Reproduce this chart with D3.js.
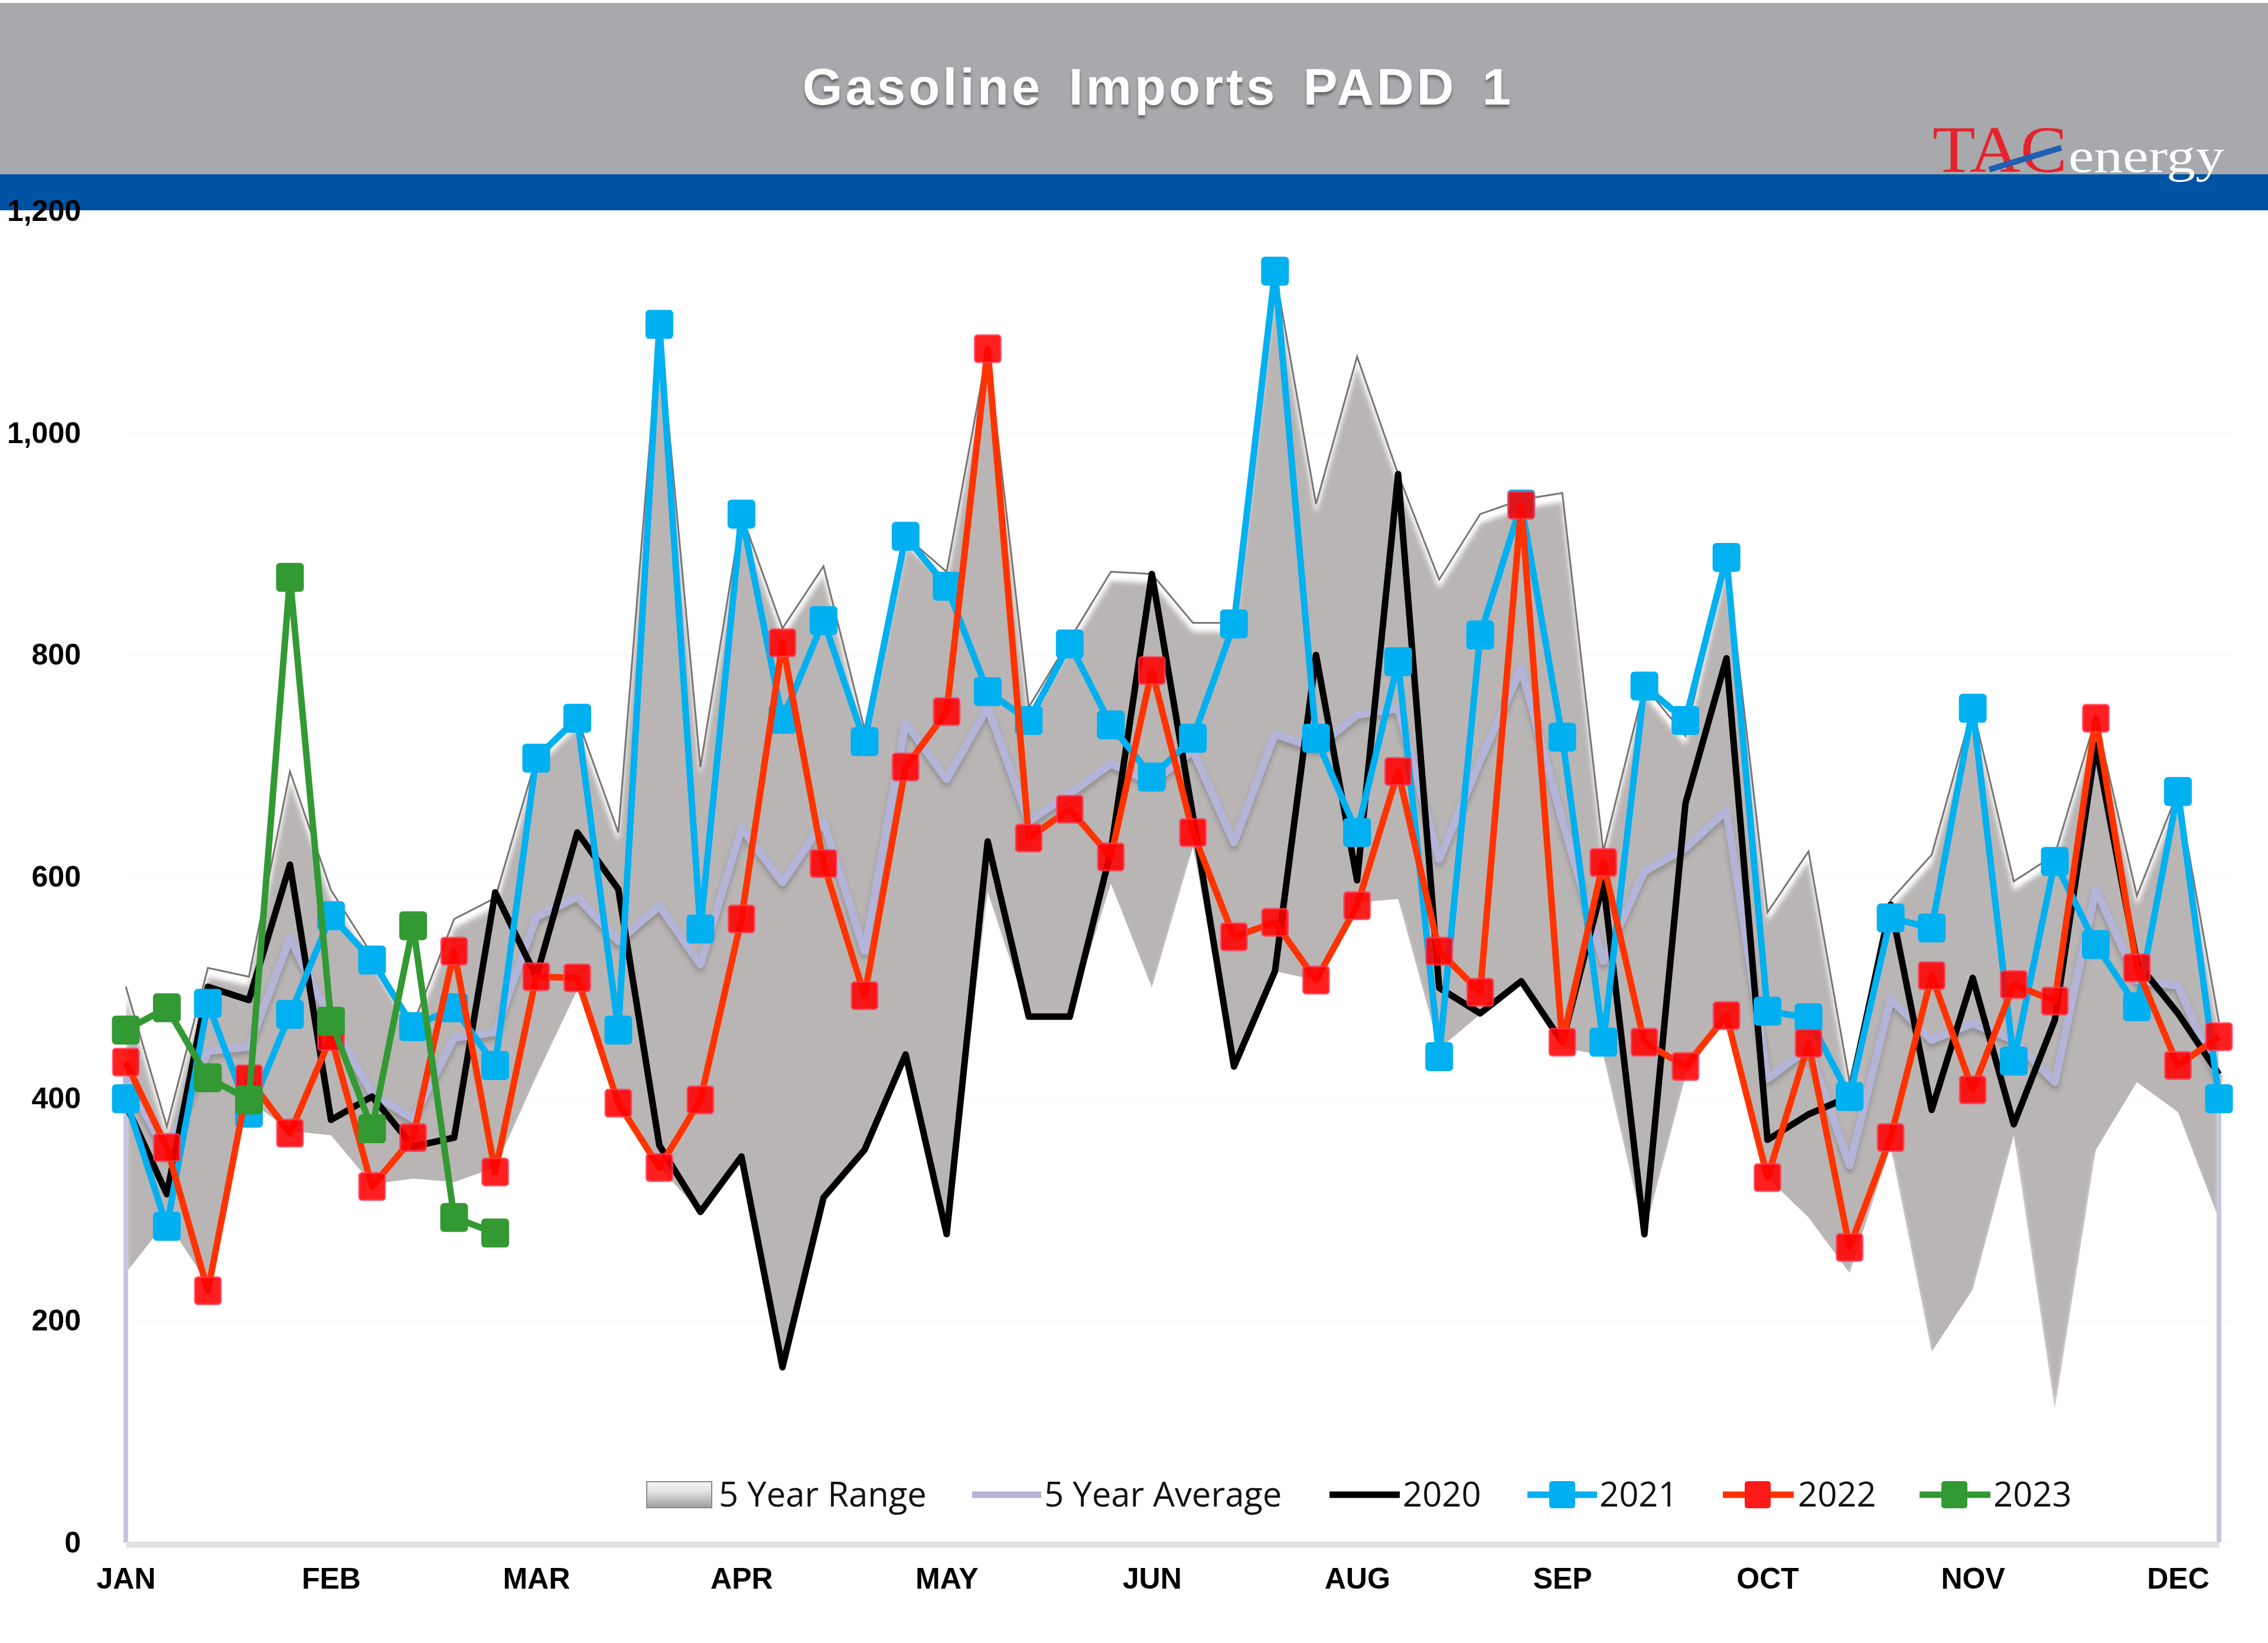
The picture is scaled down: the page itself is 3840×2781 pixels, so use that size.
<!DOCTYPE html>
<html>
<head>
<meta charset="utf-8">
<title>Gasoline Imports PADD 1</title>
<script src="https://cdn.jsdelivr.net/npm/d3@7/dist/d3.min.js"></script>
<style>
  html, body { margin: 0; padding: 0; background: #fff; }
  svg { display: block; }
  text { font-family: "Liberation Sans", Arial, sans-serif; }
</style>
</head>
<body>
<svg id="chart" width="3840" height="2781"></svg>
<script>
// values, one per week
var yTicks = [0, 200, 400, 600, 800, 1000, 1200];
var monthLabels = ["JAN", "FEB", "MAR", "APR", "MAY", "JUN", "AUG", "SEP", "OCT", "NOV", "DEC"];
var monthWeeks = [0, 5, 10, 15, 20, 25, 30, 35, 40, 45, 50];
var weeks = d3.range(52);

var rangeHigh = [501, 375, 518, 510, 695, 588, 530, 467, 562, 581, 707, 743, 640, 1098, 699, 927, 824, 880, 733, 907, 875, 1076, 753, 814, 875, 873, 829, 829, 1146, 936, 1069, 963, 868, 927, 940, 946, 623, 772, 727, 888, 568, 623, 415, 579, 620, 752, 596, 620, 743, 583, 677, 469];
var rangeLow = [243, 290, 233, 399, 371, 367, 323, 328, 325, 338, 420, 498, 392, 338, 298, 348, 158, 311, 354, 440, 278, 586, 474, 474, 594, 500, 627, 429, 515, 507, 577, 580, 445, 476, 507, 446, 439, 278, 420, 475, 329, 293, 243, 357, 172, 228, 367, 120, 354, 415, 388, 291];
var avg5 = [420, 350, 443, 447, 545, 470, 405, 382, 455, 460, 564, 582, 542, 574, 521, 644, 595, 650, 533, 739, 688, 753, 650, 675, 702, 685, 714, 631, 729, 716, 746, 752, 616, 705, 788, 651, 524, 605, 626, 660, 418, 446, 340, 490, 453, 468, 453, 415, 589, 507, 502, 418];
var y2020 = [395, 314, 501, 489, 611, 381, 402, 357, 365, 586, 510, 640, 589, 358, 298, 348, 158, 311, 354, 440, 278, 632, 474, 474, 623, 873, 655, 429, 515, 800, 597, 963, 500, 477, 506, 451, 595, 278, 666, 797, 363, 386, 402, 575, 390, 509, 377, 471, 719, 523, 477, 422];
var y2021 = [400, 285, 486, 387, 476, 565, 525, 465, 482, 430, 707, 743, 462, 1098, 553, 927, 742, 831, 722, 907, 862, 767, 741, 810, 737, 690, 725, 828, 1146, 725, 640, 794, 438, 818, 936, 726, 451, 772, 741, 888, 479, 473, 402, 563, 554, 752, 434, 614, 539, 483, 677, 400];
var y2022 = [433, 356, 227, 418, 369, 456, 321, 365, 533, 334, 510, 509, 396, 338, 399, 562, 811, 612, 493, 699, 749, 1076, 635, 661, 618, 786, 640, 546, 559, 507, 574, 695, 533, 496, 935, 451, 613, 451, 429, 475, 329, 450, 266, 365, 511, 408, 503, 488, 743, 518, 430, 456];
var y2023 = [462, 482, 419, 399, 870, 470, 373, 556, 293, 279];

var legendRange = "5 Year Range";
var legendAverage = "5 Year Average";
var chartTitle = "Gasoline Imports PADD 1";

var colBlack = "#000000", colBlue = "#00b0f0", colRed = "#ff3300", colGreen = "#339933", colAvg = "#b4b4d8";

var svg = d3.select("#chart");
var x = d3.scaleLinear().domain([0, 51]).range([213, 3757]);
var y = d3.scaleLinear().domain([0, 1200]).range([2611, 357.5]);

/*
	defs: bevel on the range, soft shadow under the average
*/
var defs = svg.append("defs");

var bevel = defs.append("filter").attr("id", "bevel")
	.attr("filterUnits", "userSpaceOnUse").attr("x", 0).attr("y", 300).attr("width", 3840).attr("height", 2400);
bevel.append("feFlood").attr("flood-color", "#ffffff").attr("result", "white");
bevel.append("feComposite").attr("in", "white").attr("in2", "SourceAlpha").attr("operator", "in").attr("result", "whiteShape");
bevel.append("feOffset").attr("in", "SourceAlpha").attr("dy", 15).attr("result", "moved");
bevel.append("feGaussianBlur").attr("in", "moved").attr("stdDeviation", 4).attr("result", "soft");
bevel.append("feFlood").attr("flood-color", "#b9b5b4").attr("result", "grey");
bevel.append("feComposite").attr("in", "grey").attr("in2", "soft").attr("operator", "in").attr("result", "greySoft");
bevel.append("feComposite").attr("in", "greySoft").attr("in2", "SourceAlpha").attr("operator", "in").attr("result", "greyIn");
var bevelMerge = bevel.append("feMerge");
bevelMerge.append("feMergeNode").attr("in", "whiteShape");
bevelMerge.append("feMergeNode").attr("in", "greyIn");

var shadow = defs.append("filter").attr("id", "shadow")
	.attr("filterUnits", "userSpaceOnUse").attr("x", 0).attr("y", 300).attr("width", 3840).attr("height", 2400);
shadow.append("feDropShadow").attr("dx", 0).attr("dy", 7).attr("stdDeviation", 4)
	.attr("flood-color", "#555").attr("flood-opacity", 0.4);

var swatchFill = defs.append("linearGradient").attr("id", "swatchFill")
	.attr("x1", 0).attr("y1", 0).attr("x2", 0).attr("y2", 1);
swatchFill.append("stop").attr("offset", "0%").attr("stop-color", "#f4f4f4");
swatchFill.append("stop").attr("offset", "35%").attr("stop-color", "#e6e6e6");
swatchFill.append("stop").attr("offset", "100%").attr("stop-color", "#9f9c9c");

/*
	header bands
*/
svg.append("rect").attr("x", 0).attr("y", 5).attr("width", 3840).attr("height", 290).attr("fill", "#a7a9ac");
svg.append("rect").attr("x", 0).attr("y", 295).attr("width", 3840).attr("height", 61).attr("fill", "#0052a2");

svg.append("text").text(chartTitle)
	.attr("x", 1961).attr("y", 177).attr("text-anchor", "middle")
	.attr("font-size", 87).attr("font-weight", "bold").attr("letter-spacing", 5).attr("word-spacing", 14)
	.attr("fill", "#ffffff")
	.style("filter", "drop-shadow(0px 5px 2px rgba(60,60,60,0.6))");

// logo
var logo = svg.append("g");
logo.append("text").text("TAC").attr("x", 3272).attr("y", 291)
	.attr("font-size", 112).attr("textLength", 228).attr("lengthAdjust", "spacingAndGlyphs")
	.style("font-family", "'Liberation Serif', serif").attr("fill", "#e5232c");
logo.append("line").attr("x1", 3368).attr("y1", 287).attr("x2", 3490).attr("y2", 250)
	.attr("stroke", "#1f5fb0").attr("stroke-width", 10);
logo.append("text").text("energy").attr("x", 3502).attr("y", 291)
	.attr("font-size", 80).attr("textLength", 264).attr("lengthAdjust", "spacingAndGlyphs")
	.style("font-family", "'Liberation Serif', serif").attr("fill", "#ffffff");

/*
	axes
*/
var yAxis = svg.append("g").attr("class", "y-axis")
	.attr("transform", "translate(" + x(0) + ",0)")
	.call(d3.axisLeft(y).tickValues(yTicks).tickFormat(d3.format(",")).tickSize(-3570).tickPadding(76));
yAxis.select(".domain").remove();
yAxis.selectAll("line").attr("stroke", "#fbfbfb").attr("stroke-width", 3);
yAxis.selectAll("text").attr("font-size", 50).attr("font-weight", "bold").attr("fill", "#000")
	.style("font-family", "'Liberation Sans', Arial, sans-serif");

/*
	range area and average
*/
var rangeArea = d3.area()
	.x(function(d) { return x(d); })
	.y0(function(d) { return y(rangeLow[d]); })
	.y1(function(d) { return y(rangeHigh[d]); });

svg.append("path").datum(weeks).attr("class", "range")
	.attr("d", rangeArea).attr("fill", "#b9b5b4")
	.attr("filter", "url(#bevel)");

svg.append("path").datum(weeks).attr("class", "range-edge")
	.attr("d", d3.line().x(function(d) { return x(d); }).y(function(d) { return y(rangeHigh[d]); }))
	.attr("fill", "none").attr("stroke", "#7a7474").attr("stroke-width", 3);

var valueLine = d3.line()
	.x(function(d) { return x(d.week); })
	.y(function(d) { return y(d.value); });

function toPoints(values) {
	return values.map(function(v, i) { return { week: i, value: v }; });
}

// the average drops to the axis at both ends
[0, 51].forEach(function(w) {
	svg.append("path").datum([{ week: w, value: avg5[w] }, { week: w, value: 0 }])
		.attr("d", valueLine).attr("fill", "none").attr("stroke", "#c6c6de").attr("stroke-width", 8);
});

svg.append("path").datum(toPoints(avg5)).attr("class", "avg")
	.attr("d", valueLine).attr("fill", "none").attr("stroke", colAvg)
	.attr("stroke-width", 13).attr("stroke-linejoin", "round")
	.attr("filter", "url(#shadow)");

// x axis sits above the range but below the series
var xAxis = svg.append("g").attr("class", "x-axis")
	.attr("transform", "translate(0," + y(0) + ")")
	.call(d3.axisBottom(x).tickValues(monthWeeks)
		.tickFormat(function(d) { return monthLabels[monthWeeks.indexOf(d)]; })
		.tickSize(0).tickPadding(42));
xAxis.select(".domain").attr("stroke", "#e0e0e0").attr("stroke-width", 10).attr("transform", "translate(0,3)");
xAxis.selectAll("text").attr("font-size", 50).attr("font-weight", "bold").attr("fill", "#000")
	.style("font-family", "'Liberation Sans', Arial, sans-serif");

/*
	yearly series
*/
function drawSeries(values, color, markerFill, markerStroke) {
	var pts = toPoints(values);
	var g = svg.append("g");
	g.append("path").datum(pts).attr("d", valueLine)
		.attr("fill", "none").attr("stroke", color).attr("stroke-width", 11).attr("stroke-linejoin", "round");
	if (markerFill) {
		g.selectAll("rect").data(pts).enter().append("rect")
			.attr("x", function(d) { return x(d.week) - 22; })
			.attr("y", function(d) { return y(d.value) - 23; })
			.attr("width", 44).attr("height", 46).attr("rx", 5)
			.attr("fill", markerFill)
			.attr("stroke", markerStroke).attr("stroke-width", 3);
	}
}

drawSeries(y2020, colBlack);
drawSeries(y2021, colBlue, "#00b0f0", "#00b0f0");
drawSeries(y2022, colRed, "rgba(255,0,0,0.88)", "rgba(255,60,90,0.75)");
drawSeries(y2023, colGreen, "#339933", "#339933");

/*
	legend, laid out by hand as in the source picture
*/
var legendY = 2530;
var legend = svg.append("g").attr("class", "legend");

function legendText(label, tx) {
	legend.append("text").text(label).attr("x", tx).attr("y", legendY + 20)
		.attr("font-size", 58).attr("fill", "#111")
		.style("font-family", "'Open Sans', 'Noto Sans', sans-serif");
}
function legendLine(x1, x2, color) {
	legend.append("line").attr("x1", x1).attr("x2", x2).attr("y1", legendY).attr("y2", legendY)
		.attr("stroke", color).attr("stroke-width", 11);
}
function legendMarker(cx, color) {
	legend.append("rect").attr("x", cx - 22).attr("y", legendY - 23)
		.attr("width", 44).attr("height", 46).attr("rx", 5).attr("fill", color);
}

legend.append("rect").attr("x", 1095).attr("y", 2508).attr("width", 110).attr("height", 44)
	.attr("fill", "url(#swatchFill)").attr("stroke", "#8d8a8a").attr("stroke-width", 2);
legendText(legendRange, 1217);
legendLine(1646, 1763, colAvg);
legendText(legendAverage, 1768);
legendLine(2251, 2370, colBlack);
legendText("2020", 2375);
legendLine(2586, 2704, colBlue);
legendMarker(2645, colBlue);
legendText("2021", 2708);
legendLine(2917, 3037, colRed);
legendMarker(2976, "#ff1a1a");
legendText("2022", 3044);
legendLine(3250, 3370, colGreen);
legendMarker(3309, colGreen);
legendText("2023", 3375);
</script>
</body>
</html>
